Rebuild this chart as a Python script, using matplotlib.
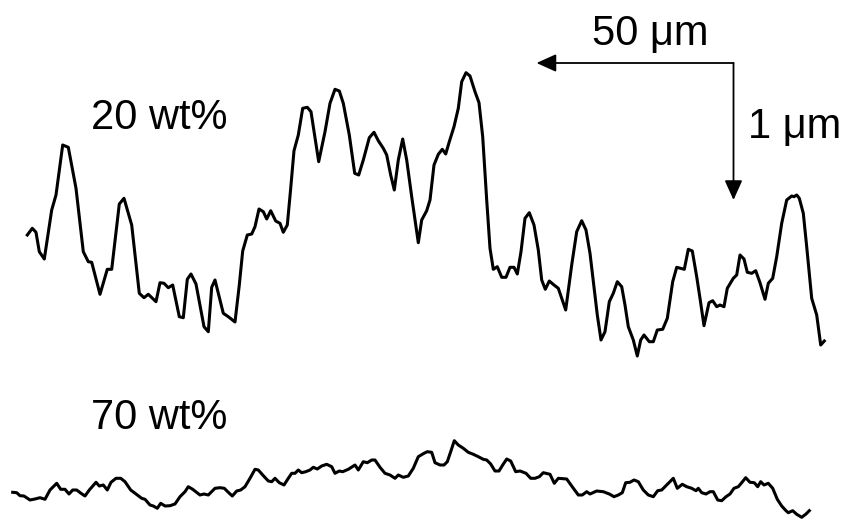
import matplotlib
matplotlib.use("Agg")
import matplotlib.pyplot as plt

plt.rcParams['font.family'] = ['Liberation Sans', 'DejaVu Sans']

# Profile traces (horizontal position, vertical position; image units, y downward)
x20 = [27.3, 32.3, 36, 39.3, 44.3, 51.7, 56, 62.7, 68.3, 76, 83.3, 88.3, 91.7, 100, 107.3, 111.7,
       119.3, 124, 131.7, 139.3, 144, 148.3, 156, 160, 164, 168.3, 172.7, 179.3, 183.3, 187.3, 191,
       196, 204, 208.3, 211.7, 215, 223.3, 228.3, 235, 239.3, 242.7, 247.3, 251.7, 255, 259, 263.3,
       266.7, 270.7, 275.7, 280, 283.3, 287.3, 290.7, 294, 298.3, 302.7, 307.3, 311, 318.7, 325, 330,
       335, 339.3, 343.3, 349.3, 354.7, 358.7, 363.3, 369.3, 374, 378.3, 383.3, 386.7, 390.7, 394.3,
       398.3, 402.7, 406.7, 411.7, 418.3, 421.7, 426.7, 430, 434, 438.3, 442.3, 445.7, 449.3, 454,
       458.3, 461.7, 466, 470, 475, 479, 482.7, 486.7, 490, 493.3, 497.3, 501.7, 506, 510, 514, 517.3,
       521, 525, 529.3, 534, 538.3, 541.7, 545.3, 549.3, 554, 558.3, 561.7, 565.7, 571.7, 576.7, 581.7,
       586, 590, 594, 597.3, 601, 605, 609.3, 613.3, 617.3, 621.7, 625, 628.3, 633.3, 637.3, 640.7,
       644, 649.3, 653.3, 657.3, 662.7, 667.3, 672.7, 676.7, 680.7, 684.3, 688.3, 692.3, 696.7, 700,
       704, 709, 712.7, 716.7, 720, 724, 727.3, 733.3, 736.7, 740, 744, 747.3, 751.7, 755.7, 760, 765,
       768.3, 772.7, 776.7, 781.7, 786.7, 791.7, 794, 796.7, 799.3, 803.3, 806.7, 811.7, 816.7, 820.7,
       824.3]
y20 = [235, 228.3, 232.3, 251.7, 259, 210, 195, 145, 147.3, 188.3, 251.7, 261.7, 262.3, 294.3, 269.3,
       269.3, 204, 198.3, 225, 293.3, 297.7, 294.3, 301.7, 282.7, 283.3, 287.7, 285, 316.7, 317.7,
       279.3, 274, 284, 326.7, 331.7, 287.3, 280, 313.3, 316.7, 322, 285, 251, 235, 234, 226.7, 209,
       211.7, 219, 210.7, 221, 223.3, 232.3, 225, 188.3, 150.7, 135, 108.3, 107.3, 111.7, 161.7, 131.7,
       103.3, 89.3, 91, 103.3, 135, 173.3, 175, 160, 137.7, 132.3, 140.7, 148.3, 155, 175, 190, 160,
       139, 160, 196.7, 242.7, 220, 210.7, 200, 165, 154.3, 149.3, 154, 141.7, 126.7, 108.3, 81.7, 72.7,
       76, 91.7, 102.7, 136.7, 200, 248.3, 269.3, 266.7, 277.3, 277.3, 267.3, 267.3, 274, 251.7, 218.3,
       212.7, 225, 250, 280, 289.3, 281, 285, 288.3, 298.3, 310, 265, 231.7, 220.7, 230, 253.3, 286.7,
       315, 340, 331.7, 301.7, 293.3, 281.7, 286.7, 305, 326.7, 340, 356, 340, 335, 341.7, 341.7, 330,
       329.3, 318.3, 281.7, 267.3, 268.3, 269.3, 249.3, 251, 276.7, 298.3, 325.7, 302.7, 300.7, 306.7,
       305, 306.7, 288.3, 278.3, 275, 255, 259, 272.3, 273.3, 270.7, 282.7, 299.3, 283.3, 278.3,
       256.7, 223.3, 200, 196, 196.7, 195, 198.3, 213.3, 246.7, 298.3, 315, 345, 341]

x70 = [12.7, 16.7, 20, 24, 30, 35, 40, 45, 50, 56.7, 60.7, 65, 69, 72.7, 76.7, 81, 85, 89.3, 96, 99.3,
       103.3, 107.3, 111, 116, 120.7, 125, 130.7, 136, 141.7, 145, 150, 153.3, 157.3, 160.7, 165, 170,
       175, 180, 185, 188.3, 192.7, 200, 204, 208.3, 215, 220, 224.3, 228.3, 232.3, 236.7, 240.7, 245,
       250, 255, 258.3, 262.7, 268.3, 271.7, 275, 279.3, 284, 288.3, 291.7, 295, 298.3, 301.7, 305.7,
       310, 313.3, 317.3, 321.7, 326.7, 331.7, 335, 339.3, 342.7, 348.3, 355, 358.3, 363.3, 367.3,
       371.7, 375, 380, 385, 390, 395, 398.3, 403.3, 408.3, 413.3, 418.3, 424, 427.3, 431.7, 435, 440,
       444, 447.3, 450.7, 454.3, 458.3, 463.3, 468.3, 473.3, 478.3, 483.3, 486.7, 490.7, 495, 499,
       502.7, 506.7, 510.7, 515.7, 520, 526, 530.7, 535, 539.3, 543.3, 550, 554.3, 558.3, 566.7,
       571.7, 578.3, 582.3, 586.7, 590, 596.7, 603.3, 609.3, 614, 618.3, 622.3, 625.7, 630, 634,
       638.3, 643.3, 648.3, 653.3, 657.7, 661.7, 666.7, 673.3, 677.3, 682.3, 686.7, 691.7, 696,
       698.3, 701.7, 706, 710, 713.3, 717.7, 721.7, 726, 730, 734, 738.3, 741.7, 745.7, 750, 754.3,
       757.7, 760.7, 764, 768.3, 772.7, 777.3, 781.7, 786, 788.3, 792.7, 796.7, 801.7, 806, 809.3]
y70 = [492.3, 492.7, 495.7, 496, 500, 499, 497.7, 499.3, 490, 483.3, 489.3, 489.3, 494, 490, 490, 493.3,
       496, 490, 482.3, 486, 485, 490, 482.3, 478.3, 478.3, 481.7, 490, 494, 498.3, 499.3, 505, 506,
       508.3, 503.3, 506, 505.7, 504, 496.7, 491.7, 486.7, 489.3, 495, 494, 495, 488.3, 487.7, 488.3,
       492.3, 496, 491, 490, 486.7, 478.3, 469.3, 470, 475, 481, 481.7, 478.3, 482.7, 485, 478.3,
       473.3, 473.3, 470, 472.7, 471.7, 470, 467.3, 469, 466, 464.3, 466.7, 473.3, 471, 471.7, 469.3,
       465, 470, 461.7, 462.7, 460, 460, 467.3, 473.3, 475, 478.3, 475, 477.3, 476, 468.3, 456.7,
       453.3, 451.7, 452.3, 462.7, 465, 465, 461.7, 451.7, 440.7, 445, 448.3, 452.3, 454.3, 456.7,
       459.3, 460, 464, 471, 471, 465, 459, 461, 471.7, 471, 473.3, 478.3, 478.3, 476.7, 472.7,
       474.3, 483.3, 478.3, 479, 486, 495, 495, 491.7, 494, 491, 491.7, 494, 496.7, 495, 492.7, 482.7,
       482.3, 480, 481.7, 490, 495, 496.7, 490.7, 490, 485, 478.3, 488.3, 484.3, 486.7, 488.3, 490.7,
       488.3, 492.7, 494, 491.7, 491.7, 500, 500.7, 496.7, 494, 488.3, 486.7, 482.7, 477.7, 482.3,
       482.7, 486.7, 481.7, 485, 483.3, 488.3, 499.3, 506, 510.7, 512.7, 510.7, 514.3, 517.3, 514,
       510.7]

labels = ["20 wt%", "70 wt%"]
scale_x_label = "50 μm"
scale_y_label = "1 μm"

fig = plt.figure(figsize=(8.47, 5.2), dpi=100)
ax = fig.add_axes([0, 0, 1, 1])
ax.set_xlim(0, 847)
ax.set_ylim(520, 0)
ax.axis('off')

ax.plot(x20, y20, color='black', lw=2.2, solid_joinstyle='round')
ax.plot(x70, y70, color='black', lw=2.2, solid_joinstyle='round')

fs = 30
ax.text(91, 118, labels[0], fontsize=fs, ha='left', va='center')
ax.text(91, 418, labels[1], fontsize=fs, ha='left', va='center')
ax.text(650, 34, scale_x_label, fontsize=fs, ha='center', va='center')
ax.text(748, 127, scale_y_label, fontsize=fs, ha='left', va='center')

corner = (733.5, 63)
ap = dict(arrowstyle='-|>,head_length=0.6,head_width=0.27', mutation_scale=20,
          lw=1.3, color='black', shrinkA=0, shrinkB=0)
ax.annotate('', xy=(536.5, 63), xytext=corner, arrowprops=ap)
ax.annotate('', xy=(733.5, 200), xytext=corner, arrowprops=ap)

fig.savefig("out.png", dpi=100)
